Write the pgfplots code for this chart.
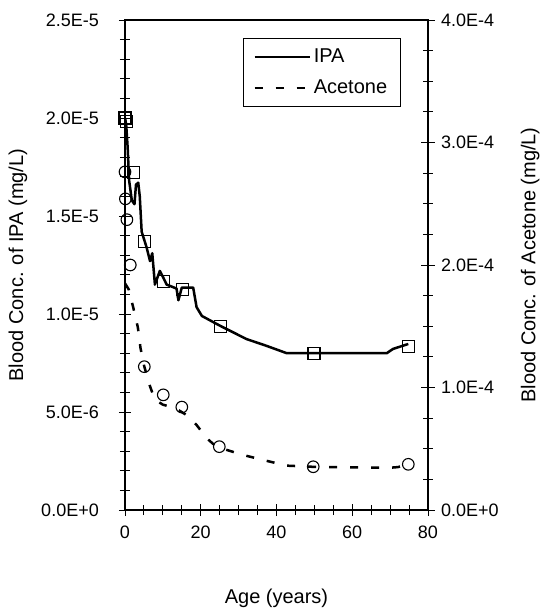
\documentclass[border=0pt]{standalone}
\usepackage{fontspec}
\setmainfont{Liberation Sans}
\usepackage{pgfplots}
\pgfplotsset{compat=1.18}
\begin{document}
\fontsize{18}{21}\selectfont
\begin{tikzpicture}
\useasboundingbox (-125pt,-102pt) rectangle (419pt,510pt);
\begin{axis}[
  scale only axis, width=303pt, height=490pt,
  at={(0pt,0pt)}, anchor=south west,
  xmin=0, xmax=80, ymin=0, ymax=2.5e-5,
  xtick={0,20,40,60,80}, minor x tick num=3,
  ytick={0,5e-6,1e-5,1.5e-5,2e-5,2.5e-5},
  yticklabels={0.0E+0,5.0E-6,1.0E-5,1.5E-5,2.0E-5,2.5E-5},
  scaled y ticks=false,
  minor y tick num=4,
  xtick pos=left, ytick pos=left,
  tick align=center,
  major tick length=12pt, minor tick length=10pt,
  every tick/.style={black, line width=0.9pt},
  axis line style={line width=1.1pt},
  /pgf/number format/assume math mode=true,
  tick label style={font=\fontsize{18}{21}\selectfont},
  yticklabel style={xshift=-14pt},
  xticklabel style={yshift=-4pt},
  xlabel={Age (years)}, ylabel={Blood Conc. of IPA (mg/L)},
  label style={font=\fontsize{20}{24}\selectfont},
  xlabel style={at={(axis description cs:0.5,-0.1796)}, anchor=center},
  ylabel style={at={(axis description cs:-0.353,0.5)}, anchor=center},
  legend style={at={(axis description cs:0.389,0.963)}, anchor=north west,
    draw=black, line width=0.8pt, inner xsep=10pt, inner ysep=8pt,
    row sep=11pt, font=\fontsize{20}{24}\selectfont,
    nodes={inner xsep=3pt}},
  legend cell align=left,
  legend image code/.code={\draw[#1] (0pt,0pt) -- (55pt,0pt);},
]
\draw[line width=2pt] (rel axis cs:0,0) -- (rel axis cs:0,1);
\draw[line width=2pt] (rel axis cs:0,0) -- (rel axis cs:1,0);
\addplot[black, line width=2.5pt, line join=round] coordinates {
(0,2.00e-5) (0.3,1.97e-5) (0.7,1.85e-5) (1.1,1.68e-5) (1.8,1.58e-5) (2.5,1.56e-5)
(2.9,1.66e-5) (3.5,1.67e-5) (3.9,1.60e-5) (4.4,1.42e-5) (5.7,1.34e-5) (6.6,1.27e-5)
(7.2,1.31e-5) (7.9,1.15e-5) (9.2,1.22e-5) (10,1.19e-5) (11,1.15e-5) (13.6,1.13e-5)
(14.1,1.07e-5) (15,1.135e-5) (18,1.135e-5) (18.9,1.035e-5) (20.3,0.99e-5) (25.1,0.94e-5)
(32.1,0.872e-5) (37,0.84e-5) (42.7,0.80e-5) (49.7,0.80e-5) (69.1,0.80e-5) (70.8,0.822e-5)
(74.8,0.847e-5)};
\addlegendentry{IPA}
\addplot[only marks, mark=square, mark size=6pt, mark options={line width=1.1pt, fill=none}, black, forget plot] coordinates {
(0,2.0e-5) (0.5,1.98e-5) (2.3,1.72e-5) (5.2,1.37e-5) (10.1,1.165e-5) (15.2,1.125e-5)
(25.1,0.935e-5) (49.9,0.80e-5) (74.8,0.835e-5)};
\addlegendimage{black, line width=2.5pt, dash pattern=on 8pt off 13pt}
\addlegendentry{Acetone}
\end{axis}
\begin{axis}[
  scale only axis, width=303pt, height=490pt,
  at={(0pt,0pt)}, anchor=south west,
  xmin=0, xmax=80, ymin=0, ymax=4e-4,
  axis x line=none, axis y line*=right,
  axis line style={line width=1.1pt, -},
  ytick={0,1e-4,2e-4,3e-4,4e-4},
  yticklabels={0.0E+0,1.0E-4,2.0E-4,3.0E-4,4.0E-4},
  scaled y ticks=false,
  minor y tick num=3,
  ytick pos=right,
  tick align=center,
  major tick length=14pt, minor tick length=10pt,
  every tick/.style={black, line width=0.9pt},
  /pgf/number format/assume math mode=true,
  tick label style={font=\fontsize{18}{21}\selectfont},
  ylabel={Blood Conc. of Acetone (mg/L)},
  label style={font=\fontsize{20}{24}\selectfont},
  ylabel style={at={(axis description cs:1.337,0.5)}, anchor=center, rotate=0},
]
\addplot[black, line width=2.5pt, dash pattern=on 8pt off 13pt] coordinates {
(0,1.85e-4) (1,1.80e-4) (2.2,1.65e-4) (3.4,1.49e-4) (4.1,1.32e-4) (5.1,1.17e-4)
(6.6,1.01e-4) (7.9,0.90e-4) (10,0.86e-4) (12.3,0.84e-4) (14.1,0.816e-4) (16,0.78e-4)
(18.9,0.694e-4) (21.6,0.585e-4) (24,0.52e-4) (26.9,0.49e-4) (31.2,0.449e-4)
(36.5,0.408e-4) (42.7,0.362e-4) (50,0.352e-4) (60,0.348e-4) (70,0.345e-4)
(72,0.35e-4) (74.8,0.37e-4)};
\addplot[only marks, mark=o, mark size=5.8pt, mark options={line width=1.1pt}, black] coordinates {
(0,2.76e-4) (0.1,2.54e-4) (0.5,2.37e-4) (1.4,2.00e-4) (5.1,1.17e-4) (10.1,0.94e-4)
(15,0.84e-4) (24.9,0.517e-4) (49.7,0.353e-4) (74.8,0.373e-4)};
\end{axis}
\end{tikzpicture}
\end{document}
